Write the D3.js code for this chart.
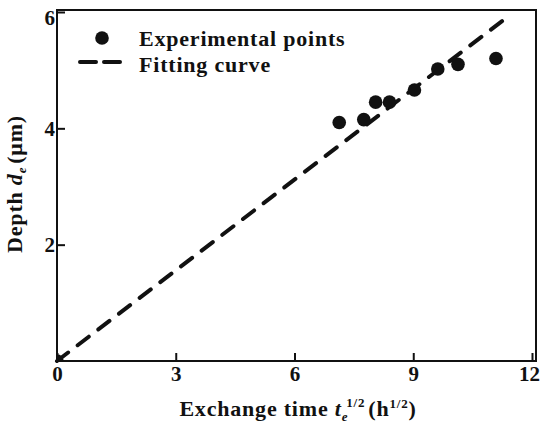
<!DOCTYPE html>
<html>
<head>
<meta charset="utf-8">
<script src="https://cdn.jsdelivr.net/npm/d3@7"></script>
<style>
  body { margin: 0; background: #fff; }
  text { font-family: "Liberation Serif", "DejaVu Serif", serif; font-weight: bold; fill: #111; }
</style>
</head>
<body>
<div id="chart"></div>
<script>
"use strict";

// experimental points (sqrt of hours, micrometres)
const timeValues = [0, 7.13, 7.75, 8.05, 8.4, 9.03, 9.62, 10.13, 11.09];
const depthValues = [0, 4.1, 4.15, 4.45, 4.45, 4.66, 5.02, 5.1, 5.2];
// fitted straight line end points
const fitTime = [0, 11.45];
const fitDepth = [0, 5.95];
const xTicks = [0, 3, 6, 9, 12];
const yTicks = [2, 4, 6];

const plot = {
    width: 540,
    height: 428,
    left: 57,
    right: 532,
    top: 12,
    bottom: 361
}

let svg = d3.select("#chart")
    .append("svg")
    .attr("width", plot.width)
    .attr("height", plot.height);

let xScale = d3.scaleLinear()
    .domain([0, 12])
    .range([plot.left, plot.right]);

let yScale = d3.scaleLinear()
    .domain([0, 6])
    .range([plot.bottom, plot.top]);

svg.append("clipPath")
    .attr("id", "plotClip")
    .append("rect")
    .attr("x", plot.left)
    .attr("y", plot.top - 2)
    .attr("width", plot.right - plot.left + 4)
    .attr("height", plot.bottom - plot.top + 2);

// frame
svg.append("rect")
    .attr("x", plot.left)
    .attr("y", plot.top - 2)
    .attr("width", plot.right - plot.left + 4)
    .attr("height", plot.bottom - plot.top + 2)
    .attr("fill", "none")
    .attr("stroke", "#111")
    .attr("stroke-width", 2);

function styleTicks(g) {
    g.select(".domain").remove();
    g.selectAll("line").attr("stroke", "#111").attr("stroke-width", 2);
    g.selectAll("text")
        .attr("font-size", "21px")
        .attr("font-family", "Liberation Serif")
        .attr("font-weight", "bold")
        .attr("fill", "#111");
}

// x axis, ticks pointing inward
let xAxis = d3.axisBottom(xScale)
    .tickValues(xTicks)
    .tickFormat(d3.format("d"))
    .tickSize(-8)
    .tickPadding(5);
let gx = svg.append("g")
    .attr("transform", "translate(0," + plot.bottom + ")")
    .call(xAxis);
styleTicks(gx);
gx.selectAll(".tick").filter((d) => d == 12).select("text").attr("dx", "-3");

// y axis
let yAxis = d3.axisLeft(yScale)
    .tickValues(yTicks)
    .tickFormat(d3.format("d"))
    .tickSize(-8)
    .tickPadding(2);
let gy = svg.append("g")
    .attr("transform", "translate(" + plot.left + ",0)")
    .call(yAxis);
styleTicks(gy);
gy.selectAll(".tick").filter((d) => d == 6).select("text").attr("dy", "0.6em");

// fitting line
let fitData = fitTime.map((t, i) => ({ t: t, d: fitDepth[i] }));
svg.append("path")
    .datum(fitData)
    .attr("fill", "none")
    .attr("stroke", "#111")
    .attr("stroke-width", 4)
    .attr("stroke-linecap", "round")
    .attr("stroke-dasharray", "14 12")
    .attr("d", d3.line()
        .x((d) => xScale(d.t))
        .y((d) => yScale(d.d)));

// points
let pointData = timeValues.map((t, i) => ({ t: t, d: depthValues[i] }));
svg.append("g")
    .attr("clip-path", "url(#plotClip)")
    .selectAll(".dot")
    .data(pointData)
    .enter()
    .append("circle")
    .attr("cx", (d) => xScale(d.t))
    .attr("cy", (d) => yScale(d.d))
    .attr("r", 6.8)
    .attr("fill", "#111");

// legend
let legend = svg.append("g");
legend.append("circle")
    .attr("cx", 102)
    .attr("cy", 38)
    .attr("r", 6.8)
    .attr("fill", "#111");
legend.append("line")
    .attr("x1", 80)
    .attr("x2", 128)
    .attr("y1", 62)
    .attr("y2", 62)
    .attr("stroke", "#111")
    .attr("stroke-width", 4)
    .attr("stroke-linecap", "round")
    .attr("stroke-dasharray", "16 8");
legend.append("text")
    .attr("x", 139)
    .attr("y", 46)
    .attr("font-size", "22px")
    .attr("letter-spacing", "0.8")
    .text("Experimental points");
legend.append("text")
    .attr("x", 139)
    .attr("y", 72)
    .attr("font-size", "22px")
    .attr("letter-spacing", "0.8")
    .text("Fitting curve");

// x title
let xTitle = svg.append("text")
    .attr("x", 298)
    .attr("y", 416)
    .attr("text-anchor", "middle")
    .attr("font-size", "22px")
    .attr("letter-spacing", "0.8");
xTitle.append("tspan").text("Exchange time ");
xTitle.append("tspan").attr("font-style", "italic").text("t");
xTitle.append("tspan").attr("font-size", "13px").attr("dy", 5).attr("font-style", "italic").text("e");
xTitle.append("tspan").attr("font-size", "13px").attr("dx", -2).attr("dy", -14).text("1/2");
xTitle.append("tspan").attr("dx", 3).attr("dy", 9).text("(h");
xTitle.append("tspan").attr("font-size", "13px").attr("dy", -8).text("1/2");
xTitle.append("tspan").attr("dy", 8).text(")");

// y title
let yTitle = svg.append("text")
    .attr("transform", "translate(22," + 184 + ") rotate(-90)")
    .attr("text-anchor", "middle")
    .attr("font-size", "22px")
    .attr("letter-spacing", "0.8");
yTitle.append("tspan").text("Depth ");
yTitle.append("tspan").attr("font-style", "italic").text("d");
yTitle.append("tspan").attr("font-size", "13px").attr("dy", 4).attr("font-style", "italic").text("e");
yTitle.append("tspan").attr("dx", 3).attr("dy", -4).text("(μm)");
</script>
</body>
</html>
